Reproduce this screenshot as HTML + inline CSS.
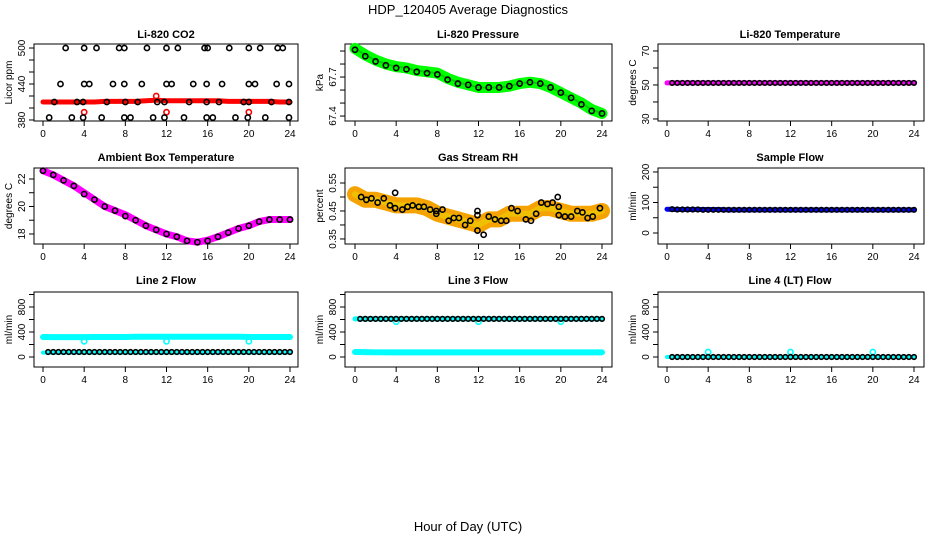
<!DOCTYPE html>
<html><head><meta charset="utf-8"><style>
body{margin:0;background:#fff}
svg{display:block;font-family:"Liberation Sans",sans-serif}
</style></head><body>
<svg id="c" width="936" height="540" viewBox="0 0 936 540">
<text x="468" y="14" text-anchor="middle" font-size="13">HDP_120405  Average Diagnostics</text>
<text x="468" y="531" text-anchor="middle" font-size="13">Hour of Day (UTC)</text>
</svg>
<script>
const hours = [0,1,2,3,4,5,6,7,8,9,10,11,12,13,14,15,16,17,18,19,20,21,22,23,24];
const halfHours = [0.5,1,1.5,2,2.5,3,3.5,4,4.5,5,5.5,6,6.5,7,7.5,8,8.5,9,9.5,10,10.5,11,11.5,12,12.5,13,13.5,14,14.5,15,15.5,16,16.5,17,17.5,18,18.5,19,19.5,20,20.5,21,21.5,22,22.5,23,23.5,24];
const xTicks = [0,4,8,12,16,20,24];

// CO2
const co2Red = [410,410,410,410,410,410,411,411,411,411,412,413,412,412,412,412,412,412,411,411,411,411,411,410,410];
const co2RedOutHours = [4,12,20,11];
const co2RedOut = [393,393,393,420];
const co2BlkHours = [2.2,4,5.2,7.4,7.9,10.1,12,13.1,15.7,16,18.1,20,21.1,22.8,23.3,1.7,4,4.5,6.8,7.9,9.6,12,12.5,14.6,15.9,17.4,20,20.6,22.7,23.9,1.1,3.3,3.9,6.2,8,9.2,11.1,11.8,14.2,15.9,17.1,19.5,20,22.2,23.9,0.6,2.8,3.9,5.7,7.9,8.5,10.7,11.8,13.7,15.9,16.5,18.7,19.9,21.6,23.9];
const co2Blk = [500,500,500,500,500,500,500,500,500,500,500,500,500,500,500,440,440,440,440,440,440,440,440,440,440,440,440,440,440,440,410,410,410,410,410,410,410,410,410,410,410,410,410,410,410,384,384,384,384,384,384,384,384,384,384,384,384,384,384,384];
// Pressure
const presGreen = [67.92,67.87,67.83,67.8,67.78,67.77,67.75,67.74,67.73,67.69,67.66,67.64,67.62,67.62,67.62,67.63,67.65,67.66,67.65,67.62,67.58,67.54,67.5,67.45,67.42];
const presBlk = [67.91,67.86,67.82,67.79,67.77,67.76,67.74,67.73,67.72,67.68,67.65,67.64,67.62,67.62,67.62,67.63,67.65,67.66,67.65,67.62,67.58,67.54,67.49,67.44,67.42];
// Temperature
const tempMag = [51.2,51.2,51.2,51.2,51.2,51.2,51.2,51.2,51.2,51.2,51.2,51.2,51.2,51.2,51.2,51.2,51.2,51.2,51.2,51.2,51.2,51.2,51.2,51.2,51.2];
const tempBlk = [51.2,51.2,51.2,51.2,51.2,51.2,51.2,51.2,51.2,51.2,51.2,51.2,51.2,51.2,51.2,51.2,51.2,51.2,51.2,51.2,51.2,51.2,51.2,51.2,51.2,51.2,51.2,51.2,51.2,51.2,51.2,51.2,51.2,51.2,51.2,51.2,51.2,51.2,51.2,51.2,51.2,51.2,51.2,51.2,51.2,51.2,51.2,51.2];
// Ambient
const ambMag = [22.6,22.3,21.9,21.5,21.0,20.5,20.0,19.7,19.4,19.0,18.6,18.3,18.0,17.8,17.5,17.4,17.55,17.8,18.1,18.4,18.6,18.9,19.05,19.05,19.05];
const ambBlk = [22.6,22.3,21.9,21.5,20.9,20.5,20.0,19.7,19.3,19.0,18.6,18.3,18.0,17.8,17.5,17.4,17.5,17.8,18.1,18.4,18.6,18.9,19.05,19.05,19.05];
// RH
const rhOrange = [0.51,0.49,0.49,0.48,0.47,0.47,0.47,0.46,0.44,0.43,0.42,0.41,0.40,0.42,0.42,0.44,0.44,0.44,0.46,0.46,0.45,0.44,0.44,0.44,0.45];
const rhBlkHours = [0.6,1.1,1.6,2.2,2.8,3.4,3.9,3.9,4.6,5.1,5.6,6.2,6.7,7.3,7.9,7.9,8.5,9.1,9.6,10.1,10.7,11.2,11.9,11.9,11.9,12.5,13,13.6,14.2,14.7,15.2,15.8,16.6,17.1,17.6,18.1,18.7,19.2,19.7,19.8,19.8,20.4,21,21.6,22.1,22.6,23.1,23.8];
const rhBlk = [0.50,0.49,0.495,0.48,0.495,0.47,0.515,0.46,0.455,0.465,0.47,0.465,0.465,0.455,0.45,0.44,0.455,0.415,0.425,0.425,0.40,0.415,0.435,0.45,0.38,0.365,0.43,0.42,0.415,0.415,0.46,0.45,0.42,0.415,0.44,0.48,0.475,0.48,0.50,0.465,0.435,0.43,0.43,0.45,0.445,0.425,0.43,0.46];
// Sample flow
const sampleBlue = [78,77,77,77,77,77,76,76,76,76,76,76,76,76,76,76,76,76,76,76,76,76,76,76,76];
const sampleBlk = [78,77,77,77,77,77,76,76,76,76,76,76,76,76,76,76,76,76,76,76,76,76,76,76,76,76,76,76,76,76,76,76,76,76,76,76,76,76,76,76,76,76,76,76,76,76,76,76];
// Line flows
const l2Cyan = [320,318,318,318,318,320,320,320,320,325,325,325,325,325,325,325,325,325,325,325,320,320,320,320,320];
const l2CyanLow = [70,70,70,70,70,70,70,70,70,70,70,70,70,70,70,70,70,70,70,70,70,70,70,70,70];
const l2Blk = [80,80,80,80,80,80,80,80,80,80,80,80,80,80,80,80,80,80,80,80,80,80,80,80,80,80,80,80,80,80,80,80,80,80,80,80,80,80,80,80,80,80,80,80,80,80,80,80];
const dipHours = [4,12,20];
const l2Dip = [250,250,250];
const l3Cyan = [610,610,610,610,610,610,610,610,610,610,610,610,610,610,610,610,610,610,610,610,610,610,610,610,610];
const l3CyanLow = [80,78,75,75,75,75,75,75,75,75,75,75,75,75,75,75,75,75,75,75,75,75,75,75,75];
const l3Blk = [610,610,610,610,610,610,610,610,610,610,610,610,610,610,610,610,610,610,610,610,610,610,610,610,610,610,610,610,610,610,610,610,610,610,610,610,610,610,610,610,610,610,610,610,610,610,610,610];
const l3Dip = [565,565,565];
const l4Cyan = [0,0,0,0,0,0,0,0,0,0,0,0,0,0,0,0,0,0,0,0,0,0,0,0,0];
const l4Blk = [0,0,0,0,0,0,0,0,0,0,0,0,0,0,0,0,0,0,0,0,0,0,0,0,0,0,0,0,0,0,0,0,0,0,0,0,0,0,0,0,0,0,0,0,0,0,0,0];
const l4Dip = [80,80,80];

const svg = document.getElementById('c');
const NS = 'http://www.w3.org/2000/svg';
function mk(tag, attrs, parent){const e=document.createElementNS(NS,tag);for(const k in attrs)e.setAttribute(k,attrs[k]);(parent||svg).appendChild(e);return e;}

const cols = [{l:34,r:298,x0:43,x24:290,c:166},{l:345,r:612,x0:355,x24:602,c:478},{l:658,r:924,x0:667,x24:914,c:790}];
const rows = [{t:44,b:121,ty:38},{t:168,b:244,ty:161},{t:292,b:367,ty:284}];

function panel(ci, ri, title, ylab, ymin, ymax, ticks, labels, name){
  const C=cols[ci], R=rows[ri];
  const g = mk('g',{});
  
  
  const xs = v => C.x0 + (C.x24-C.x0)*v/24;
  const ys = v => R.b - (R.b-R.t)*(v-ymin)/(ymax-ymin);
  const t = mk('text',{x:C.c,y:R.ty,'text-anchor':'middle','font-size':11,'font-weight':'bold'},g);
  t.textContent = title;
  
  
  const box = mk('rect',{x:C.l,y:R.t,width:C.r-C.l,height:R.b-R.t,fill:'none',stroke:'#000','stroke-width':1},g);
  
  
  xTicks.forEach(v=>{
    mk('line',{x1:xs(v),x2:xs(v),y1:R.b,y2:R.b+5,stroke:'#000'},g);
    const tl = mk('text',{x:xs(v),y:R.b+16,'text-anchor':'middle','font-size':10},g);
    tl.textContent = v;
    
    
  });
  ticks.forEach(v=>{
    mk('line',{x1:C.l,x2:C.l-5,y1:ys(v),y2:ys(v),stroke:'#000'},g);
  });
  labels.forEach(v=>{
    const tl = mk('text',{x:0,y:0,'text-anchor':'middle','font-size':10,transform:`translate(${C.l-9},${ys(v)}) rotate(-90)`},g);
    tl.textContent = v;
    
    
  });
  const yl = mk('text',{x:0,y:0,'text-anchor':'middle','font-size':10,transform:`translate(${C.l-22},${(R.t+R.b)/2}) rotate(-90)`},g);
  yl.textContent = ylab;
  
  
  return {g,xs,ys};
}
function band(P, xv, yv, color, w, name){
  const pts = xv.map((x,i)=>P.xs(x)+','+P.ys(yv[i])).join(' ');
  const e = mk('polyline',{points:pts,fill:'none',stroke:color,'stroke-width':w,'stroke-linejoin':'round','stroke-linecap':'round'},P.g);
  
  
}
function pts(P, xv, yv, color, name, r){
  xv.forEach((x,i)=>{
    if (yv[i] === undefined) return;
    const e = mk('circle',{cx:P.xs(x),cy:P.ys(yv[i]),r:r||2.6,fill:'none',stroke:color,'stroke-width':1.6},P.g);
    
    
  });
}

let P;
P = panel(0,0,'Li-820 CO2','Licor ppm',378.3,506.7,[380,400,420,440,460,480,500],[380,440,500],'co2');
band(P,hours,co2Red,'#f00',5,'co2-red-series');
pts(P,co2RedOutHours,co2RedOut,'#f00','co2-red-point');
pts(P,co2BlkHours,co2Blk,'#000','co2-black-point');

P = panel(1,0,'Li-820 Pressure','kPa',67.362,67.954,[67.4,67.5,67.6,67.7,67.8,67.9],[67.4,67.7],'pressure');
band(P,hours,presGreen,'#0f0',11,'pressure-green-series');
band(P,hours,presGreen,'rgba(0,120,0,0.35)',2,'pressure-green-core');
pts(P,hours,presBlk,'#000','pressure-black-point');

P = panel(2,0,'Li-820 Temperature','degrees C',28.8,74.1,[30,40,50,60,70],[30,50,70],'temperature');
band(P,hours,tempMag,'#f0f',5,'temperature-magenta-series');
pts(P,halfHours,tempBlk,'#000','temperature-black-point',2.3);

P = panel(0,1,'Ambient Box Temperature','degrees C',17.27,22.8,[18,19,20,21,22],[18,20,22],'ambient');
band(P,hours,ambMag,'#f0f',7,'ambient-magenta-series');
pts(P,hours,ambBlk,'#000','ambient-black-point');

P = panel(1,1,'Gas Stream RH','percent',0.332,0.6036,[0.35,0.40,0.45,0.50,0.55],['0.35','0.45','0.55'],'rh');
band(P,hours,rhOrange,'#f5a300',16,'rh-orange-series');
band(P,hours,rhOrange,'#f0c000',6,'rh-yellow-core');
pts(P,rhBlkHours,rhBlk,'#000','rh-black-point');

P = panel(2,1,'Sample Flow','ml/min',-36,213,[0,50,100,150,200],[0,100,200],'sample-flow');
band(P,hours,sampleBlue,'#00f',5,'sample-flow-blue-series');
pts(P,halfHours,sampleBlk,'#000','sample-flow-black-point',2.3);

P = panel(0,2,'Line 2 Flow','ml/min',-160,1040,[0,200,400,600,800,1000],[0,400,800],'line2-flow');
band(P,hours,l2Cyan,'#0ff',6,'line2-cyan-series');
band(P,hours,l2CyanLow,'#0ff',4,'line2-cyan-low-series');
pts(P,dipHours,l2Dip,'#0ff','line2-cyan-point');
pts(P,halfHours,l2Blk,'#000','line2-black-point',2.3);

P = panel(1,2,'Line 3 Flow','ml/min',-160,1040,[0,200,400,600,800,1000],[0,400,800],'line3-flow');
band(P,hours,l3Cyan,'#0ff',5,'line3-cyan-series');
band(P,hours,l3CyanLow,'#0ff',6,'line3-cyan-low-series');
pts(P,dipHours,l3Dip,'#0ff','line3-cyan-point');
pts(P,halfHours,l3Blk,'#000','line3-black-point',2.3);

P = panel(2,2,'Line 4 (LT) Flow','ml/min',-160,1040,[0,200,400,600,800,1000],[0,400,800],'line4-flow');
band(P,hours,l4Cyan,'#0ff',4,'line4-cyan-series');
pts(P,dipHours,l4Dip,'#0ff','line4-cyan-point');
pts(P,halfHours,l4Blk,'#000','line4-black-point',2.3);
</script>
</body></html>
